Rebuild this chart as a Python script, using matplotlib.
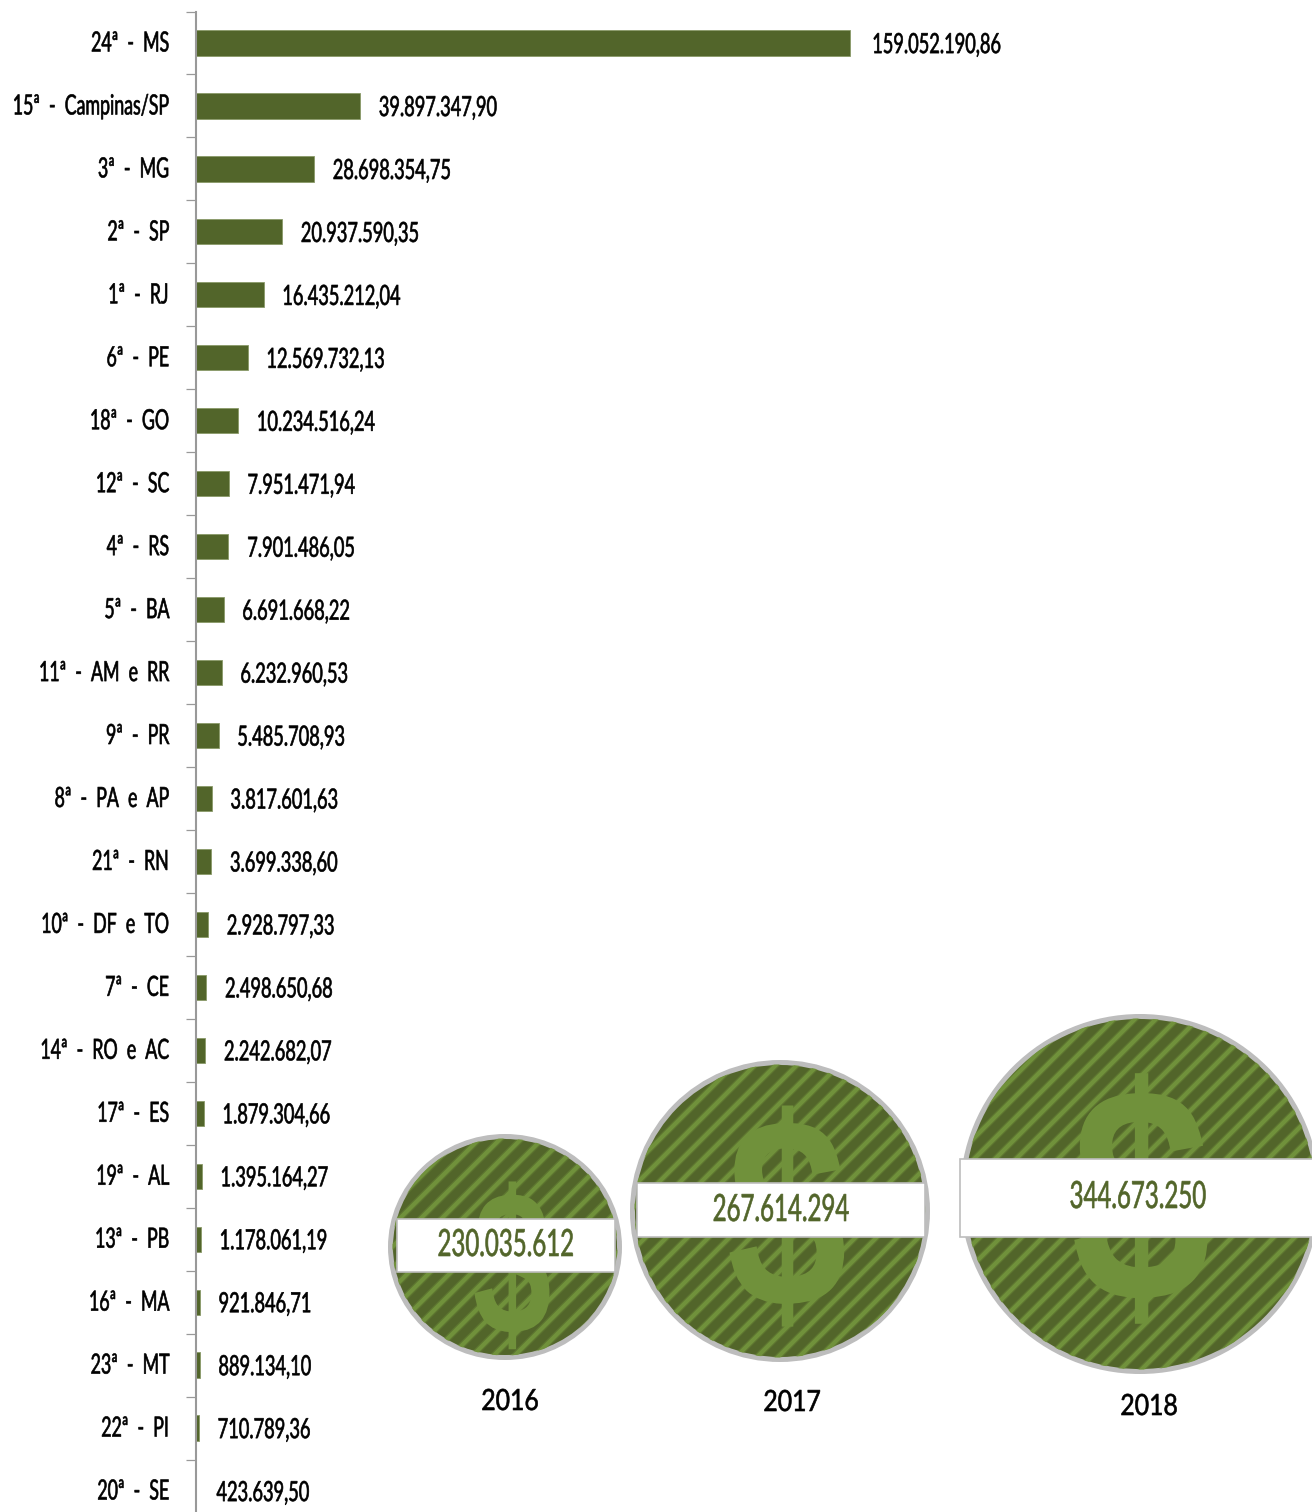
import matplotlib
matplotlib.use('Agg')
import matplotlib.pyplot as plt
import numpy as np
from matplotlib.patches import Ellipse, Rectangle
from matplotlib.patheffects import AbstractPathEffect
from matplotlib.transforms import Affine2D, Bbox

# ranking by regional
regions = ['24ª  -  MS', '15ª  -  Campinas/SP', '3ª  -  MG', '2ª  -  SP', '1ª  -  RJ', '6ª  -  PE',
           '18ª  -  GO', '12ª  -  SC', '4ª  -  RS', '5ª  -  BA', '11ª  -  AM  e  RR', '9ª  -  PR',
           '8ª  -  PA  e  AP', '21ª  -  RN', '10ª  -  DF  e  TO', '7ª  -  CE', '14ª  -  RO  e  AC',
           '17ª  -  ES', '19ª  -  AL', '13ª  -  PB', '16ª  -  MA', '23ª  -  MT', '22ª  -  PI', '20ª  -  SE']
values = [159052190.86, 39897347.90, 28698354.75, 20937590.35, 16435212.04, 12569732.13,
          10234516.24, 7951471.94, 7901486.05, 6691668.22, 6232960.53, 5485708.93,
          3817601.63, 3699338.60, 2928797.33, 2498650.68, 2242682.07,
          1879304.66, 1395164.27, 1178061.19, 921846.71, 889134.10, 710789.36, 423639.50]

years = ['2016', '2017', '2018']
totals = ['230.035.612', '267.614.294', '344.673.250']

DARK = '#52652a'
LIGHT = '#70913b'
GREY = '#bdbdbd'
W, H = 1312, 1512
FONT = ['Lato', 'DejaVu Sans']


class Squeeze(AbstractPathEffect):
    # no condensed font here, so narrow the glyphs about the text's anchor
    def __init__(self, sx, ha, bold=0.0):
        super().__init__()
        self.sx, self.ha, self.bold = sx, ha, bold

    def draw_path(self, renderer, gc, tpath, affine, rgbFace=None):
        e = tpath.get_extents()
        ref = {'left': 0, 'right': e.x1, 'center': (e.x0+e.x1)/2}[self.ha]
        tr = Affine2D().translate(-ref, 0).scale(self.sx, 1).translate(ref, 0) + affine
        gc0 = renderer.new_gc()
        gc0.copy_properties(gc)
        if self.bold:
            gc0.set_foreground(rgbFace)
            gc0.set_linewidth(self.bold)
        renderer.draw_path(gc0, tpath, tr, rgbFace)
        gc0.restore()


def squeeze(t, sx, bold=0.45):
    ha = t.get_ha()
    t.set_path_effects([Squeeze(sx, ha, bold)])
    full = t.get_window_extent

    def extent(renderer=None, dpi=None):
        b = full(renderer, dpi)
        w = b.width*sx
        x0 = {'left': b.x0, 'right': b.x1-w, 'center': (b.x0+b.x1-w)/2}[ha]
        return Bbox.from_bounds(x0, b.y0, w, b.height)
    t.get_window_extent = extent
    return t


def br(v):
    return f'{v:,.2f}'.replace(',', 'X').replace('.', ',').replace('X', '.')


fig = plt.figure(figsize=(W/100, H/100), dpi=100, facecolor='white')

# ---- bars ----
step = (1491-43)/23
top = 43-step/2
ax = fig.add_axes([196/W, 1-(top+24*step)/H, 900/W, 24*step/H])
y = np.arange(len(values))
# the reference shows no visible bar for the last row, only its label
ax.barh(y[:-1], values[:-1], height=0.40, color=DARK, edgecolor='#8a9a68', linewidth=0.6)
ax.set_xlim(0, 900*159052190.86/654)
ax.set_ylim(23.5, -0.5)
for i, v in enumerate(values):
    a = ax.annotate(br(v), (v, i), xytext=(16 if i == 0 else 13.5, -1.5), textcoords='offset points',
                    va='center', ha='left', fontsize=20, family=FONT, color='black')
    squeeze(a, 0.655)
ax.set_yticks(np.arange(-0.5, 24), labels=[])
ax.set_yticks(y, labels=regions, minor=True, family=FONT, fontsize=20)
ax.tick_params(axis='y', which='major', length=7.2, width=0.9, color='#999999')
ax.tick_params(axis='y', which='minor', length=0, pad=19)
for lb in ax.get_yticklabels(minor=True):
    lb.set_transform(lb.get_transform() + Affine2D().translate(0, 2))
    squeeze(lb, 0.64)
ax.set_xticks([])
for s in ['top', 'right', 'bottom']:
    ax.spines[s].set_visible(False)
ax.spines['left'].set_color('#999999')
ax.spines['left'].set_linewidth(1.5)
ax.patch.set_alpha(0)

# ---- coins, drawn in pixel coords ----
ov = fig.add_axes([0, 0, 1, 1])
ov.set_xlim(0, W)
ov.set_ylim(H, 0)
ov.axis('off')
ov.patch.set_alpha(0)

# cx, cy, rx, ry, band x0, x1, y0, y1, total x, y, year x, y, $ x, y, size, squeeze
coins = [(505, 1247, 117, 113, 397, 615, 1219, 1272, 506, 1245, 510, 1402, 512, 1281, 148, 0.69),
         (780, 1211, 150, 151, 637, 925, 1183, 1237, 781, 1210, 792, 1403, 787, 1236, 195, 0.80),
         (1140, 1194, 180, 180, 960, 1320, 1159, 1237, 1138, 1197, 1149, 1407, 1141, 1222, 221, 0.82)]
for c, yr, tot in zip(coins, years, totals):
    cx, cy, rx, ry, x0, x1, y0, y1, tx, ty, yx, yy, dx, dy, ds, dq = c
    ov.add_patch(Ellipse((cx, cy), 2*rx-5, 2*ry-5, fc=DARK, ec=GREY, lw=3.6, zorder=2))
    clip = Ellipse((cx, cy), 2*rx-9, 2*ry-9, transform=ov.transData)
    for k in np.arange(-2.4*rx, 2.4*rx, 21):
        for lw, al in [(4.8, 0.35), (3.0, 1)]:
            ln, = ov.plot([cx+k-rx, cx+k+rx], [cy+rx, cy-rx], color=LIGHT, lw=lw, alpha=al,
                          zorder=3, solid_capstyle='butt')
            ln.set_clip_path(clip)
    d = ov.text(dx, dy, '$', fontsize=ds, color=LIGHT, ha='center', va='center',
                family=['Liberation Sans', 'DejaVu Sans'], fontweight='bold', zorder=4)
    squeeze(d, dq, bold=0)
    ov.add_patch(Rectangle((x0, y0), x1-x0, y1-y0, fc='white', ec=GREY, lw=1.2, zorder=5))
    squeeze(ov.text(tx, ty, tot, fontsize=27, family=FONT, color=DARK, ha='center', va='center', zorder=6), 0.64)
    squeeze(ov.text(yx, yy, yr, fontsize=21, family=FONT, color='black', ha='center', va='center'), 0.85)

fig.savefig('out.png', dpi=100, facecolor='white')
